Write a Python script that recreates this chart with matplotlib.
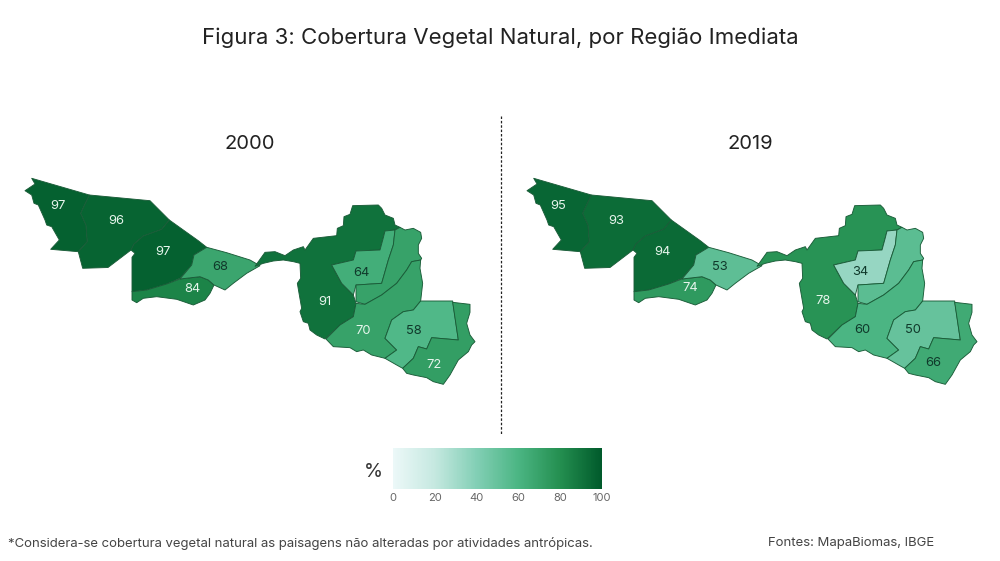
import matplotlib
matplotlib.use("Agg")
import matplotlib.pyplot as plt
from matplotlib.colors import LinearSegmentedColormap
from matplotlib.lines import Line2D
from matplotlib.patches import Polygon
from matplotlib.cm import ScalarMappable
from matplotlib.colors import Normalize

plt.rcParams['font.family'] = ['Inter', 'DejaVu Sans']

# Values per region, in the order of the outlines below.
regions = ["A", "B", "C", "D", "E", "F", "H", "I", "J", "K", "L"]
values_2000 = [97, 96, 97, 84, 68, 91, 64, 70, 70, 58, 72]
values_2019 = [95, 93, 94, 74, 53, 78, 34, 54, 60, 50, 66]
labelled = [True, True, True, True, True, True, True, False, True, True, True]
years = ["2000", "2019"]
cbar_ticks = [0, 20, 40, 60, 80, 100]

# Region outlines in map units. Acre was read in one crop, Rondonia in another.
acre = {
    "A": [(31.7, 178.3), (35, 184), (25, 190.7), (31.7, 195), (34, 203.3), (38.3, 205), (45, 220), (46.7, 225),
          (51.7, 226.7), (59.3, 240), (50.7, 249.3), (78.3, 251.7), (87.3, 241.7), (86, 225), (80.7, 213.3),
          (89.3, 195)],
    "B": [(89.3, 195), (150, 200.7), (169.3, 220), (161.7, 229.3), (143.3, 236), (134, 244), (131, 250),
          (108, 267.5), (82.7, 268.3), (78.3, 251.7), (87.3, 241.7), (86, 225), (80.7, 213.3)],
    "C": [(169.3, 220), (198.3, 240.7), (206.7, 247.3), (194, 255), (191.7, 265), (180, 278.3), (166.7, 284),
          (146.7, 290), (132, 291.7), (132, 257.3), (135, 253.3), (131, 250), (134, 244), (143.3, 236),
          (161.7, 229.3)],
    "D": [(132, 291.7), (146.7, 290), (166.7, 284), (180, 279), (200, 276.7), (208.3, 280), (214, 285),
          (210, 293.3), (205, 300), (193.3, 305), (176.7, 299.3), (156.7, 296.7), (143.3, 298.3),
          (136.7, 302.7), (132, 300)],
    "E": [(206.7, 247.3), (194, 255), (191.7, 265), (180, 279), (200, 276.7), (208.3, 280), (214, 285),
          (225, 290), (233.3, 283.3), (246.7, 273.3), (260, 265.7), (250, 260), (226.7, 252.7)],
}
rondonia = {
    "F": [(15, 214), (45, 172), (75, 170), (105, 182), (130, 165), (145, 160), (160, 155), (165, 165), (190, 130),
          (260, 122), (262, 100), (280, 92), (282, 65), (300, 58), (308, 32), (385, 30), (395, 40), (405, 60),
          (430, 70), (435, 90), (450, 97), (435, 105), (405, 108), (400, 128), (390, 165), (318, 168), (310, 195),
          (245, 210), (275, 265), (310, 300), (318, 325), (310, 365), (270, 390), (225, 432), (200, 420), (180, 405),
          (175, 385), (160, 380), (150, 350), (155, 340), (148, 300), (142, 265), (152, 250), (150, 205), (130, 200),
          (100, 195), (70, 198), (40, 205)],
    "H": [(245, 210), (310, 195), (318, 168), (390, 165), (400, 128), (405, 108), (435, 105), (430, 150),
          (415, 195), (395, 265), (318, 270), (310, 300), (275, 265)],
    "I": [(435, 105), (450, 97), (465, 105), (490, 100), (512, 112), (515, 130), (505, 150), (505, 175), (515, 190),
          (512, 195), (485, 200), (470, 225), (440, 265), (395, 300), (345, 328), (318, 320), (318, 270), (395, 265),
          (415, 195), (430, 150)],
    "J": [(345, 328), (395, 300), (440, 265), (470, 225), (485, 200), (512, 195), (510, 220), (518, 265), (512, 318),
          (490, 345), (460, 350), (425, 375), (405, 430), (440, 465), (405, 490), (365, 480), (340, 465), (320, 470),
          (300, 458), (250, 455), (228, 432), (270, 390), (310, 365), (318, 325)],
    "K": [(405, 430), (425, 375), (460, 350), (490, 345), (512, 318), (608, 318), (612, 345), (625, 435), (545, 428),
          (530, 462), (505, 455), (490, 490), (458, 520), (440, 510), (405, 490), (440, 465)],
    "L": [(458, 520), (490, 490), (505, 455), (530, 462), (545, 428), (625, 435), (608, 322), (660, 328), (660, 352),
          (650, 385), (660, 420), (675, 440), (665, 450), (655, 470), (625, 495), (610, 522), (600, 540), (580, 568),
          (550, 560), (530, 548), (490, 540), (470, 535)],
}
outlines = dict(acre)
for key, pts in rondonia.items():
    outlines[key] = [(250 + x / 3, 195 + y / 3) for x, y in pts]

label_pos = {
    "2000": [(58, 206), (116, 221), (163, 252), (192, 289), (220, 267), (325, 302), (361, 273), None, (363, 331),
             (414, 331), (434, 365)],
    "2019": [(56, 206), (114, 221), (160, 252), (188, 288), (218, 267), (321, 301), (358, 272), None, (360, 330),
             (411, 330), (431, 363)],
}

cmap = LinearSegmentedColormap.from_list("cobertura", [
    (0.0, "#ecf8f8"), (0.2, "#c5e8e0"), (0.4, "#82cfb5"), (0.6, "#4bb583"), (0.8, "#248f50"), (1.0, "#005a2b")])
norm = Normalize(0, 100)

fig = plt.figure(figsize=(10, 5.61), dpi=100)
panels = [fig.add_axes([0, 0, 0.5, 1]), fig.add_axes([0.502, 0, 0.498, 1])]

for ax, year, vals, width in zip(panels, years, [values_2000, values_2019], [500, 498]):
    ax.set_xlim(0, width)
    ax.set_ylim(561, 0)
    ax.axis("off")
    for region, v in zip(regions, vals):
        ax.add_patch(Polygon(outlines[region], closed=True, facecolor=cmap(norm(v)),
                             edgecolor="#1a5c38", linewidth=0.65, joinstyle="round"))
    for v, pos, show in zip(vals, label_pos[year], labelled):
        if show:
            ax.text(pos[0], pos[1], str(v), ha="center", va="center", fontsize=9.3,
                    color="#e6f5ec" if v >= 69 else "#10392b")

fig.text(0.5, 1 - 38 / 561, "Figura 3: Cobertura Vegetal Natural, por Região Imediata", ha="center", va="center",
         fontsize=16, color="#222222")
fig.text(0.25, 1 - 144 / 561, "2000", ha="center", va="center", fontsize=14.5, color="#222222")
fig.text(0.75, 1 - 144 / 561, "2019", ha="center", va="center", fontsize=14.5, color="#222222")
fig.add_artist(Line2D([0.501, 0.501], [1 - 116 / 561, 1 - 435 / 561], color="#222222", linewidth=0.9,
                      linestyle=(0, (2, 1.5))))

cax = fig.add_axes([393 / 1000, 1 - 489 / 561, 209 / 1000, 41 / 561])
cb = fig.colorbar(ScalarMappable(norm=norm, cmap=cmap), cax=cax, orientation="horizontal")
cb.set_ticks(cbar_ticks)
cb.ax.tick_params(length=0, labelsize=8, labelcolor="#666666", pad=3)
cb.outline.set_visible(False)
fig.text(373 / 1000, 1 - 472 / 561, "%", ha="center", va="center", fontsize=14, color="#333333")

fig.text(8 / 1000, 1 - 543 / 561, "*Considera-se cobertura vegetal natural as paisagens não alteradas por atividades antrópicas.",
         ha="left", va="center", fontsize=9.45, color="#444444")
fig.text(768 / 1000, 1 - 543 / 561, "Fontes: MapaBiomas, IBGE", ha="left", va="center", fontsize=9.45, color="#444444")

fig.savefig("out.png", dpi=100)
